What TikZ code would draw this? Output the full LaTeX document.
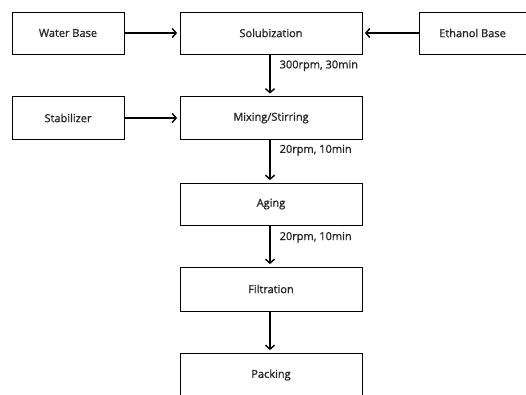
\documentclass[tikz,border=0pt]{standalone}
\usepackage{fontspec}
\setmainfont{Open Sans}[UprightFeatures={FakeBold=1.2}]
\usetikzlibrary{arrows.meta,positioning}
\tikzset{box/.style={draw=black,line width=.8pt,minimum height=42pt,inner sep=0pt,font=\fontsize{11}{13}\selectfont,text=black!85},flow/.style={-{Straight Barb[length=4pt,width=9pt]},line width=1.4pt,shorten >=2.5pt},lab/.style={font=\fontsize{11}{13}\selectfont,text=black!85,inner sep=0pt,anchor=west,xshift=9pt}}

\begin{document}
\begin{tikzpicture}[x=1pt,y=-1pt]
\useasboundingbox (0,0) rectangle (526,394);
\node[box,minimum width=112pt] (water) at (68,33) {Water Base};
\node[box,minimum width=182pt] (solu) at (271,33) {Solubization};
\node[box,minimum width=107pt] (ethanol) at (472.5,33) {Ethanol Base};
\node[box,minimum width=112pt,minimum height=43pt] (stab) at (68,118) {Stabilizer};
\node[box,minimum width=182pt,minimum height=43pt] (mix) at (271,118) {Mixing/Stirring};
\node[box,minimum width=182pt] (aging) at (271,204) {Aging};
\node[box,minimum width=182pt,minimum height=44pt] (filt) at (271,289) {Filtration};
\node[box,minimum width=182pt,minimum height=44pt] (pack) at (271,375) {Packing};
\draw[flow] (water)--(solu);\draw[flow] (ethanol)--(solu);\draw[flow] (stab)--(mix);
\draw[flow] (solu.south-|270,0)--node[lab,pos=.27]{300rpm, 30min}(mix.north-|270,0);
\draw[flow] (mix.south-|270,0)--node[lab,pos=.24]{20rpm, 10min}(aging.north-|270,0);
\draw[flow] (aging.south-|270,0)--node[lab,pos=.29]{20rpm, 10min}(filt.north-|270,0);
\draw[flow] (filt.south-|270,0)--(pack.north-|270,0);
\end{tikzpicture}
\end{document}
